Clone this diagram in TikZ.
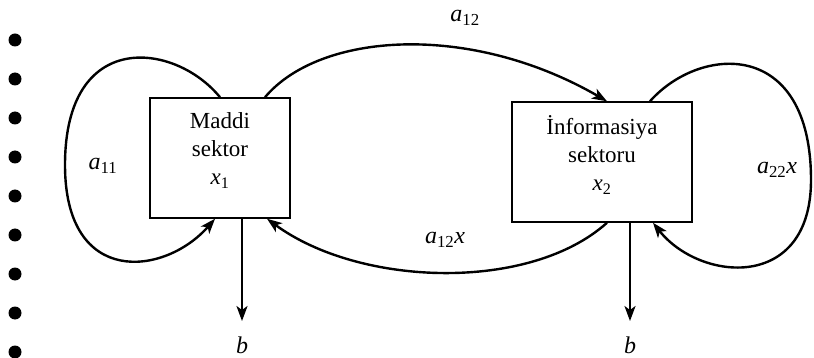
\documentclass[tikz,border=0pt]{standalone}
\usepackage{fontspec}
\setmainfont{Liberation Serif}
\usetikzlibrary{arrows.meta}

\tikzset{
  sektor/.style={draw, line width=1.5pt, minimum width=140pt, minimum height=120pt,
    align=center, font=\fontsize{23}{28}\selectfont},
  axin/.style={line width=2.4pt, -{Stealth[length=15pt,width=11pt,inset=4pt]}},
  etiket/.style={font=\fontsize{24}{28}\selectfont\itshape}
}

\begin{document}
\begin{tikzpicture}[x=1pt,y=-1pt]

  \useasboundingbox (0,0) rectangle (814,358);

  % Nöqtələr
  \foreach \k in {0,...,8}
    \fill (15,{40+39*\k}) circle (6.5pt);

  % Sektorlar
  \node[sektor] (mad) at (220,158)
    {Maddi\\sektor\\\textit{x}\textsubscript{1}\\[-10pt]};

  \node[sektor, minimum width=180pt] (inf) at (602,162)
    {İnformasiya\\sektoru\\\textit{x}\textsubscript{2}\\[-10pt]};

  % Çıxışlar
  \node[etiket] (b1) at (242,345) {b};
  \node[etiket] (b2) at (630,345) {b};

  \draw[axin]
    (b1 |- mad.south) -- ([yshift=12pt]b1.north);

  \draw[axin]
    (b2 |- inf.south) -- ([yshift=12pt]b2.north);

  % Öz-özünə əlaqə
  \draw[axin]
    (mad.north) .. controls (175,42) and (65,28) .. (65,165)
    .. controls (65,288) and (165,276) .. ([xshift=-5pt]mad.south);

  \draw[axin]
    ([xshift=48pt]inf.north) .. controls (700,45) and (811,38) .. (811,180)
    .. controls (811,292) and (700,282) .. ([xshift=51pt]inf.south);

  % Sektorlar arası əlaqə
  \draw[axin]
    ([xshift=45pt]mad.north) .. controls (320,32) and (470,22) .. ([xshift=5pt]inf.north);

  \draw[axin]
    ([xshift=5pt]inf.south) .. controls (530,292) and (360,287) .. ([xshift=47pt]mad.south);

  % Etiketlər
  \node[etiket] (a11) at (103,166) {a\textsubscript{\upshape 11}};
  \node[etiket] (a12) at (465,18) {a\textsubscript{\upshape 12}};
  \node[etiket] (a22) at (777,170) {a\textsubscript{\upshape 22}x};
  \node[etiket] (a12x) at (445,240) {a\textsubscript{\upshape 12}x};

\end{tikzpicture}
\end{document}
